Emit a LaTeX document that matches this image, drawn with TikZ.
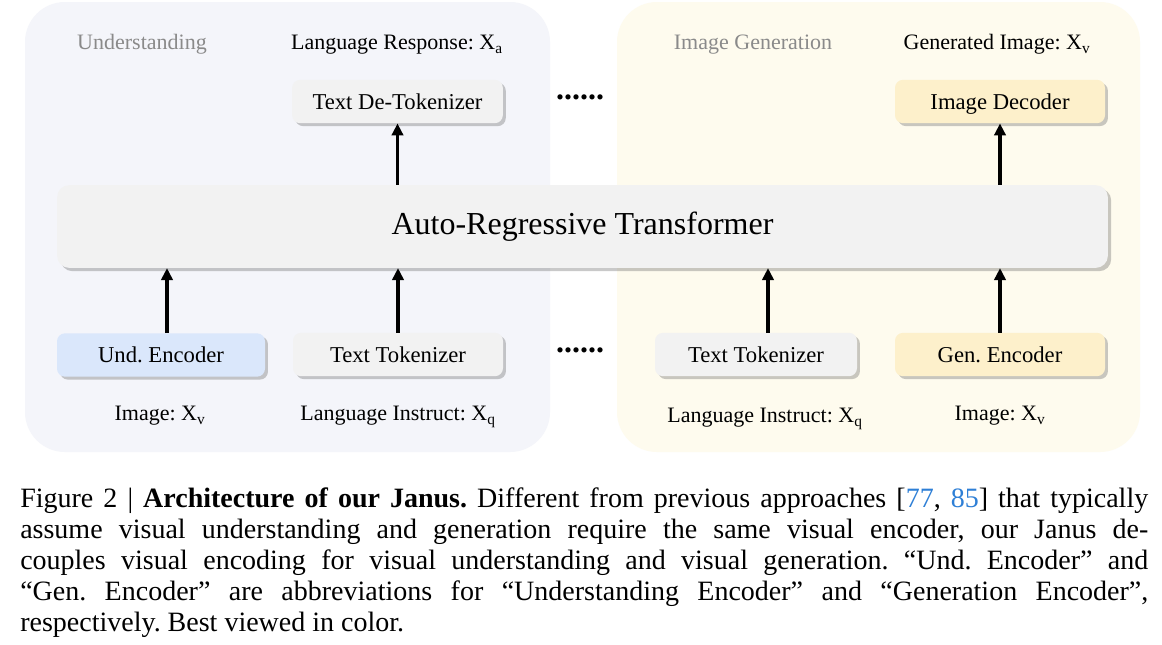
\documentclass[tikz,border=0pt]{standalone}
\usepackage{fontspec}
\setmainfont{Liberation Serif}
\usetikzlibrary{arrows.meta,shadows,calc}
\definecolor{panelL}{HTML}{F4F5FA}
\definecolor{panelR}{HTML}{FEFBEE}
\definecolor{boxgray}{HTML}{F2F2F2}
\definecolor{boxblue}{HTML}{DAE7FB}
\definecolor{boxyellow}{HTML}{FDF0CB}
\definecolor{labelgray}{HTML}{8A8A8A}
\definecolor{citeblue}{HTML}{2E7FD6}
\tikzset{
  stagebox/.style={rounded corners=6pt, minimum height=32.5pt, inner sep=0pt,
    text height=11.5pt, text depth=0pt,
    font=\fontsize{17}{18}\selectfont,
    drop shadow={shadow xshift=2.2pt, shadow yshift=-2.2pt, opacity=0.35, fill=black!60}},
  lbl/.style={font=\fontsize{16.5}{18}\selectfont, inner sep=0pt, text height=11.5pt, text depth=0pt},
  arr/.style={line width=2.3pt, -{Triangle[length=9pt,width=8.5pt]}},
  dots/.style={font=\fontsize{24}{28}\bfseries\selectfont, inner sep=0pt}
}
\begin{document}
\frenchspacing
\begin{tikzpicture}[x=0.75pt,y=-0.75pt]
\useasboundingbox[fill=white] (0,0) rectangle (1162,644);
% panels
\fill[panelL, rounded corners=30pt] (25,2) rectangle (550,452);
\fill[panelR, rounded corners=30pt] (617,2) rectangle (1140,452);
% transformer
\node[rounded corners=9pt, fill=boxgray, minimum width=788pt, minimum height=62pt,
  drop shadow={shadow xshift=2.5pt, shadow yshift=-2.5pt, opacity=0.35, fill=black!60},
  font=\fontsize{24}{28}\selectfont] (tr) at (582.5,226.5) {Auto-Regressive Transformer};
% top boxes
\node[stagebox, fill=boxgray, minimum width=158pt] (detok) at (397.5,101.5) {Text De-Tokenizer};
\node[stagebox, fill=boxyellow, minimum width=157.5pt] (dec) at (1000,101.5) {Image Decoder};
% bottom boxes
\node[stagebox, fill=boxblue, minimum width=156pt] (und) at (161,355) {Und. Encoder};
\node[stagebox, fill=boxgray, minimum width=157.5pt] (tokL) at (398,354.5) {Text Tokenizer};
\node[stagebox, fill=boxgray, minimum width=151.5pt] (tokR) at (756,354.5) {Text Tokenizer};
\node[stagebox, fill=boxyellow, minimum width=157.5pt] (gen) at (1000,354.5) {Gen. Encoder};
% top labels
\node[lbl, text=labelgray] (lu) at (142,42) {Understanding};
\node[lbl] (lr) at (397,42) {Language Response: X\textsubscript{a}};
\node[lbl, text=labelgray] (lg) at (753,42) {Image Generation};
\node[lbl] (lgi) at (997,42) {Generated Image: X\textsubscript{v}};
% bottom labels
\node[lbl] (li1) at (160,413) {Image: X\textsubscript{v}};
\node[lbl] (lq1) at (398,413) {Language Instruct: X\textsubscript{q}};
\node[lbl] (lq2) at (765,415) {Language Instruct: X\textsubscript{q}};
\node[lbl] (li2) at (1000,413) {Image: X\textsubscript{v}};
% dots
\node[dots] (d1) at (580,97) {......};
\node[dots] (d2) at (580,350) {......};
% arrows
\draw[arr] ($(und.north)+(6,0)$) -- ($(und.north |- tr.south)+(6,0)$);
\draw[arr] (tokL.north) -- (tokL.north |- tr.south);
\draw[arr] ($(tokR.north)+(12,0)$) -- ($(tokR.north |- tr.south)+(12,0)$);
\draw[arr] (gen.north) -- (gen.north |- tr.south);
\draw[arr] (tr.north -| detok) -- (detok.south);
\draw[arr] (tr.north -| dec) -- (dec.south);
% caption
\node[anchor=north west, text width=846pt, align=justify, inner sep=0pt,
  font=\fontsize{21}{23.2}\selectfont] (cap) at (20,488)
{Figure 2 | \textbf{Architecture of our Janus.} Different from previous approaches [\textcolor{citeblue}{77}, \textcolor{citeblue}{85}] that typically\linebreak
assume visual understanding and generation require the same visual encoder, our Janus de-\linebreak
couples visual encoding for visual understanding and visual generation. “Und. Encoder” and\linebreak
“Gen. Encoder” are abbreviations for “Understanding Encoder” and “Generation Encoder”,\linebreak
respectively. Best viewed in color.};
\end{tikzpicture}
\end{document}
